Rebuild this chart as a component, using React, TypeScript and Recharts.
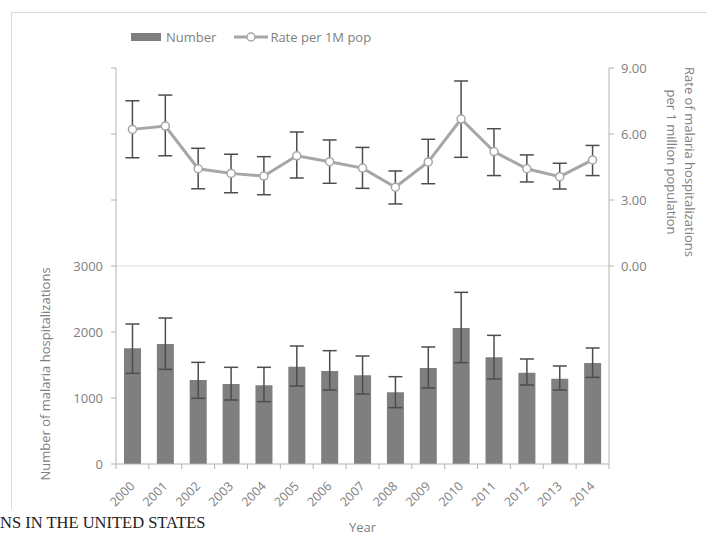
import React from 'react';
import {
  ComposedChart,
  Bar,
  Line,
  XAxis,
  YAxis,
  ErrorBar,
  ReferenceLine,
  Legend,
} from 'recharts';

const years = ['2000', '2001', '2002', '2003', '2004', '2005', '2006', '2007', '2008', '2009', '2010', '2011', '2012', '2013', '2014'];

// Number of malaria hospitalizations (bars) with 95% CI bounds
const numberValues = [1753, 1818, 1273, 1212, 1192, 1475, 1409, 1343, 1086, 1455, 2061, 1616, 1384, 1293, 1530];
const numberLower = [1374, 1434, 995, 970, 944, 1182, 1121, 1061, 854, 1152, 1535, 1288, 1197, 1121, 1313];
const numberUpper = [2121, 2212, 1540, 1465, 1465, 1788, 1717, 1636, 1323, 1773, 2601, 1949, 1591, 1485, 1758];

// Rate per 1 million population (line) with CI bounds
const rateValues = [6.21, 6.36, 4.42, 4.21, 4.09, 5.01, 4.74, 4.45, 3.58, 4.73, 6.68, 5.2, 4.42, 4.06, 4.82];
const rateLower = [4.92, 5.01, 3.51, 3.33, 3.24, 4.0, 3.76, 3.53, 2.82, 3.74, 4.94, 4.11, 3.82, 3.5, 4.11];
const rateUpper = [7.51, 7.77, 5.35, 5.08, 4.97, 6.09, 5.73, 5.39, 4.32, 5.76, 8.41, 6.24, 5.05, 4.67, 5.48];

const leftTicks = [0, 1000, 2000, 3000, 4000, 5000, 6000];
const rightTicks = [0, 3, 6, 9];

const data = years.map((year, i) => ({
  year,
  number: numberValues[i],
  numberErr: [numberValues[i] - numberLower[i], numberUpper[i] - numberValues[i]],
  rate: rateValues[i],
  rateErr: [rateValues[i] - rateLower[i], rateUpper[i] - rateValues[i]],
}));

const FONT = '"Open Sans", sans-serif';
const TEXT = '#808080';
const AXIS = '#b3b3b3';
const PLOT_LEFT = 116;
const PLOT_RIGHT = 609;
const BAND = (PLOT_RIGHT - PLOT_LEFT) / years.length;

const XTick = ({ x, y, payload, index }: any) => (
  <g>
    <line x1={x - BAND / 2} x2={x - BAND / 2} y1={y} y2={y + 5} stroke={AXIS} />
    {index === years.length - 1 && (
      <line x1={x + BAND / 2} x2={x + BAND / 2} y1={y} y2={y + 5} stroke={AXIS} />
    )}
    <text
      transform={`translate(${x + 3},${y + 23}) rotate(-45)`}
      textAnchor="end"
      fontFamily={FONT}
      fontSize={12.5}
      fill={TEXT}
    >
      {payload.value}
    </text>
  </g>
);

const LeftTick = ({ x, y, payload }: any) =>
  payload.value <= 3000 ? (
    <text x={x} y={y} dy="0.36em" textAnchor="end" fontFamily={FONT} fontSize={13} fill={TEXT}>
      {payload.value}
    </text>
  ) : null;

const RightTick = ({ x, y, payload }: any) => (
  <text x={x} y={y} dy="0.36em" textAnchor="start" fontFamily={FONT} fontSize={13} fill={TEXT}>
    {payload.value.toFixed(2)}
  </text>
);

const LegendContent = () => (
  <div style={{ display: 'flex', alignItems: 'center', fontFamily: FONT, fontSize: 13, color: TEXT, whiteSpace: 'nowrap' }}>
    <svg width={30} height={8} style={{ marginRight: 5 }}>
      <rect x={0} y={0} width={30} height={8} fill="#7f7f7f" />
    </svg>
    <span>Number</span>
    <svg width={34} height={12} style={{ marginLeft: 18, marginRight: 2 }}>
      <line x1={0} x2={34} y1={6} y2={6} stroke="#a6a6a6" strokeWidth={3} />
      <circle cx={17} cy={6} r={4} fill="#fff" stroke="#a6a6a6" strokeWidth={1.5} />
    </svg>
    <span>Rate per 1M pop</span>
  </div>
);

export default function App() {
  return (
    <div style={{ position: 'absolute', left: 0, top: 0, width: 707, height: 547, background: '#fff', overflow: 'hidden' }}>
      <div
        style={{
          position: 'absolute',
          left: 11,
          top: 12,
          width: 696,
          height: 496,
          borderTop: '1px solid #dcdcdc',
          borderLeft: '1px solid #dcdcdc',
        }}
      />
      <div style={{ position: 'absolute', left: 0, top: 0 }}>
        <ComposedChart width={707} height={547} data={data} margin={{ top: 68, right: 0, bottom: 0, left: 0 }}>
          <XAxis
            dataKey="year"
            height={83}
            interval={0}
            tickSize={0}
            tickMargin={0}
            tickLine={false}
            stroke={AXIS}
            tick={<XTick />}
            label={(props: any) => {
              const vb = props.viewBox;
              return (
                <text x={vb.x + vb.width / 2} y={vb.y + 68} textAnchor="middle" fontFamily={FONT} fontSize={13} fill={TEXT}>
                  Year
                </text>
              );
            }}
          />
          <YAxis
            yAxisId="left"
            width={116}
            domain={[0, 6000]}
            ticks={leftTicks}
            interval={0}
            tickSize={5}
            tickMargin={8}
            stroke={AXIS}
            tick={<LeftTick />}
            label={(props: any) => {
              const vb = props.viewBox;
              const cx = vb.x + 45;
              const cy = vb.y + 306;
              return (
                <text
                  transform={`translate(${cx},${cy}) rotate(-90)`}
                  dy="0.36em"
                  textAnchor="middle"
                  fontFamily={FONT}
                  fontSize={13}
                  fill={TEXT}
                >
                  Number of malaria hospitalizations
                </text>
              );
            }}
          />
          <YAxis
            yAxisId="right"
            orientation="right"
            width={98}
            domain={[-9, 9]}
            ticks={rightTicks}
            interval={0}
            tickSize={5}
            tickMargin={7}
            stroke={AXIS}
            tick={<RightTick />}
            label={(props: any) => {
              const vb = props.viewBox;
              const cy = vb.y + 94;
              return (
                <g>
                  <text
                    transform={`translate(${vb.x + 81},${cy}) rotate(90)`}
                    dy="0.36em"
                    textAnchor="middle"
                    fontFamily={FONT}
                    fontSize={13}
                    fill={TEXT}
                  >
                    Rate of malaria hospitalizations
                  </text>
                  <text
                    transform={`translate(${vb.x + 63},${cy}) rotate(90)`}
                    dy="0.36em"
                    textAnchor="middle"
                    fontFamily={FONT}
                    fontSize={13}
                    fill={TEXT}
                  >
                    per 1 million population
                  </text>
                </g>
              );
            }}
          />
          <ReferenceLine yAxisId="left" y={3000} stroke="#dadada" strokeWidth={1} />
          <Legend
            layout="vertical"
            align="center"
            verticalAlign="middle"
            wrapperStyle={{ left: 131, top: 28, width: 300 }}
            content={<LegendContent />}
          />
          <Bar yAxisId="left" dataKey="number" name="Number" fill="#7f7f7f" barSize={17} isAnimationActive={false}>
            <ErrorBar dataKey="numberErr" width={7} stroke="#4d4d4d" strokeWidth={1.5} />
          </Bar>
          <Line
            yAxisId="right"
            dataKey="rate"
            name="Rate per 1M pop"
            type="linear"
            stroke="#a6a6a6"
            strokeWidth={3}
            dot={{ r: 4, fill: '#fff', stroke: '#a6a6a6', strokeWidth: 1.5 }}
            isAnimationActive={false}
          >
            <ErrorBar dataKey="rateErr" width={7} stroke="#4d4d4d" strokeWidth={1.5} />
          </Line>
        </ComposedChart>
      </div>
      <div
        style={{
          position: 'absolute',
          left: 0,
          top: 514,
          fontFamily: '"Liberation Serif", "Times New Roman", serif',
          fontSize: 16.5,
          lineHeight: '18px',
          color: '#222',
          whiteSpace: 'nowrap',
        }}
      >
        NS IN THE UNITED STATES
      </div>
    </div>
  );
}
